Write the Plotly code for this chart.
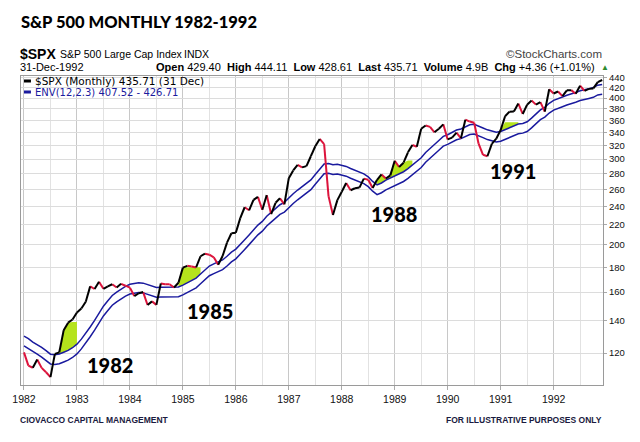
import plotly.graph_objects as go
import pandas as pd
import math

# ---- data: S&P 500 monthly closes ----
PRIOR_1981 = [131.27, 136.00, 132.81, 132.59, 131.21, 130.92, 122.79, 116.18, 121.89, 126.35, 122.55]  # Feb-Dec 1981 (for the 12-month envelope)
SPX_1982 = [120.40, 113.11, 111.96, 116.44, 111.88, 109.61, 107.09, 119.51, 120.42, 133.71, 138.54, 140.64]
SPX_1983 = [145.30, 148.06, 152.96, 164.42, 162.39, 168.11, 162.56, 164.40, 166.07, 163.55, 166.40, 164.93]
SPX_1984 = [163.41, 157.06, 159.18, 160.05, 150.55, 153.18, 150.66, 166.68, 166.10, 166.09, 163.58, 167.24]
SPX_1985 = [179.63, 181.18, 180.66, 179.83, 189.55, 191.85, 190.92, 188.63, 182.08, 189.82, 202.17, 211.28]
SPX_1986 = [211.78, 226.92, 238.90, 235.52, 247.35, 250.84, 236.12, 252.93, 231.32, 243.98, 249.22, 242.17]
SPX_1987 = [274.08, 284.20, 291.70, 288.36, 290.10, 304.00, 318.66, 329.80, 321.83, 251.79, 230.30, 247.08]
SPX_1988 = [257.07, 267.82, 258.89, 261.33, 262.16, 273.50, 272.02, 261.52, 271.91, 278.97, 273.70, 277.72]
SPX_1989 = [297.47, 288.86, 294.87, 309.64, 320.52, 317.98, 346.08, 351.45, 349.15, 340.36, 345.99, 353.40]
SPX_1990 = [329.08, 331.89, 339.94, 330.80, 361.23, 358.02, 356.15, 322.56, 306.05, 304.00, 322.22, 330.22]
SPX_1991 = [343.93, 367.07, 375.22, 375.34, 389.83, 371.16, 387.81, 395.43, 387.86, 392.46, 375.22, 417.09]
SPX_1992 = [408.79, 412.70, 403.69, 414.95, 415.35, 408.14, 424.21, 414.03, 417.80, 418.68, 431.35, 435.71]

YEAR_LABELS = ["1982", "1983", "1984", "1985", "1986", "1987", "1988", "1989", "1990", "1991", "1992"]
Y_TICKS = [120, 140, 160, 180, 200, 220, 240, 260, 280, 300, 320, 340, 360, 380, 400, 420, 440]
ENV_PERIOD = 12
ENV_PCT = 2.3

# highlighted zones: (start month index, end month index, cap level)
FILL_SPANS = [(7, 12, 139), (35, 40, 180), (80, 88, 298), (108, 112, 357)]
ZONE_LABELS = ["1982", "1985", "1988", "1991"]

closes = (SPX_1982 + SPX_1983 + SPX_1984 + SPX_1985 + SPX_1986 + SPX_1987 +
          SPX_1988 + SPX_1989 + SPX_1990 + SPX_1991 + SPX_1992)
n = len(closes)
idx = list(range(n))
sma = pd.Series(PRIOR_1981 + closes).rolling(ENV_PERIOD).mean().iloc[len(PRIOR_1981):].tolist()
upper = [v * (1 + ENV_PCT / 100) for v in sma]
lower = [v * (1 - ENV_PCT / 100) for v in sma]

BLACK = "#000000"
RED = "#dc143c"
NAVY = "#1a1a9e"
GREEN = "#b5e31c"

fig = go.Figure()

for s, e, cap in FILL_SPANS:
    xs = list(range(s, e + 1))
    top = [max(min(closes[i], cap), upper[i]) for i in xs]
    bot = [upper[i] for i in xs]
    fig.add_trace(go.Scatter(x=xs + xs[::-1], y=top + bot[::-1], mode="lines",
                             fill="toself", fillcolor=GREEN, line=dict(width=0),
                             hoverinfo="skip", showlegend=False))

fig.add_trace(go.Scatter(x=idx, y=upper, mode="lines", line=dict(color=NAVY, width=1.5), showlegend=False))
fig.add_trace(go.Scatter(x=idx, y=lower, mode="lines", line=dict(color=NAVY, width=1.5), showlegend=False))

bx, by, rx, ry = [], [], [], []
for i in range(1, n):
    if closes[i] >= closes[i - 1]:
        bx += [i - 1, i, None]
        by += [closes[i - 1], closes[i], None]
    else:
        rx += [i - 1, i, None]
        ry += [closes[i - 1], closes[i], None]
fig.add_trace(go.Scatter(x=rx, y=ry, mode="lines", line=dict(color=RED, width=2), showlegend=False))
fig.add_trace(go.Scatter(x=bx, y=by, mode="lines", line=dict(color=BLACK, width=2), showlegend=False))

# ---- layout ----
L, R, T, B = 17, 603, 76, 385
W, H = 640, 442


def px(x):
    return (x - L) / (R - L)


def py(y):
    return (B - y) / (B - T)


anns = []


def text(x, y, s, size, color="#000", family="Liberation Sans, Arial", xanchor="left", weight="normal"):
    anns.append(dict(x=px(x), y=py(y), xref="paper", yref="paper", text=s, showarrow=False,
                     xanchor=xanchor, yanchor="middle",
                     font=dict(size=size, color=color, family=family, weight=weight)))


text(15, 22, "S&P 500 MONTHLY 1982-1992", 16.5, family="Lato, Open Sans", weight=900)
text(14, 54, "<b>$SPX</b>", 14, family="Liberation Sans, Arial")
text(54, 54, "S&P 500 Large Cap Index", 10.5, family="Liberation Sans, Arial")
text(179, 54, "INDX", 10.5, family="Liberation Sans, Arial")
text(604, 54, "©StockCharts.com", 11.5, color="#444", xanchor="right")
text(14, 67, "31-Dec-1992", 11, family="Liberation Sans, Arial")
text(597, 67, "<b>Open</b> 429.40  <b>High</b> 444.11  <b>Low</b> 428.61  <b>Last</b> 435.71  "
     "<b>Volume</b> 4.9B  <b>Chg</b> +4.36 (+1.01%)", 11, xanchor="right")
text(605, 67, "▲", 8, color="#2e8b2e", xanchor="center")

text(29, 81, "$SPX (Monthly) 435.71 (31 Dec)", 10.5, family="DejaVu Sans")
text(29, 92, "ENV(12,2.3) 407.52 - 426.71", 10, color=NAVY, family="DejaVu Sans")

for lab, (cx, cy) in zip(ZONE_LABELS, [(107, 365), (207, 311), (393, 214), (512, 171)]):
    text(cx, cy, lab, 20, family="Lato, Open Sans", xanchor="center", weight=900)

text(14, 420, "CIOVACCO CAPITAL MANAGEMENT", 8.5, color="#1a1a40",
     family="Liberation Sans Narrow, Liberation Sans", weight="bold")
text(604, 420, "FOR ILLUSTRATIVE PURPOSES ONLY", 8.5, color="#1a1a40",
     family="Liberation Sans Narrow, Liberation Sans", xanchor="right", weight="bold")

shapes = [
    dict(type="line", xref="paper", yref="paper", x0=px(20), x1=px(27), y0=py(81), y1=py(81),
         line=dict(color=BLACK, width=3)),
    dict(type="line", xref="paper", yref="paper", x0=px(20), x1=px(27), y0=py(92), y1=py(92),
         line=dict(color=NAVY, width=3)),
]

x_pp = 4.444  # pixels per month
fig.update_layout(
    width=W, height=H,
    margin=dict(l=L, r=W - R, t=T, b=H - B, pad=0),
    paper_bgcolor="white", plot_bgcolor="white",
    showlegend=False,
    annotations=anns, shapes=shapes,
    xaxis=dict(range=[(L - 20) / x_pp, (R - 20) / x_pp],
               tickvals=[12 * k for k in range(len(YEAR_LABELS))], ticktext=YEAR_LABELS,
               showgrid=True, gridcolor="#c8c8c8", gridwidth=1,
               minor=dict(tickvals=[12 * k + 6 for k in range(len(YEAR_LABELS))],
                          showgrid=True, gridcolor="#e2e2e2"),
               ticks="outside", ticklen=4, tickcolor="#aaa",
               showline=True, linecolor="#9a9a9a", mirror=True, zeroline=False,
               tickfont=dict(size=10.5, family="Liberation Sans, Arial", color="#111")),
    yaxis=dict(type="log", range=[math.log10(103.2), math.log10(444)], side="right",
               tickvals=Y_TICKS, ticktext=[str(v) for v in Y_TICKS],
               showgrid=True, gridcolor="#dcdcdc", gridwidth=1,
               ticks="outside", ticklen=3, tickcolor="#aaa",
               showline=True, linecolor="#9a9a9a", mirror=True, zeroline=False,
               tickfont=dict(size=9.5, family="Liberation Sans, Arial", color="#111")),
)

fig.write_html("out.html", config={"displayModeBar": False},
               post_script="document.body.style.margin='0';")
